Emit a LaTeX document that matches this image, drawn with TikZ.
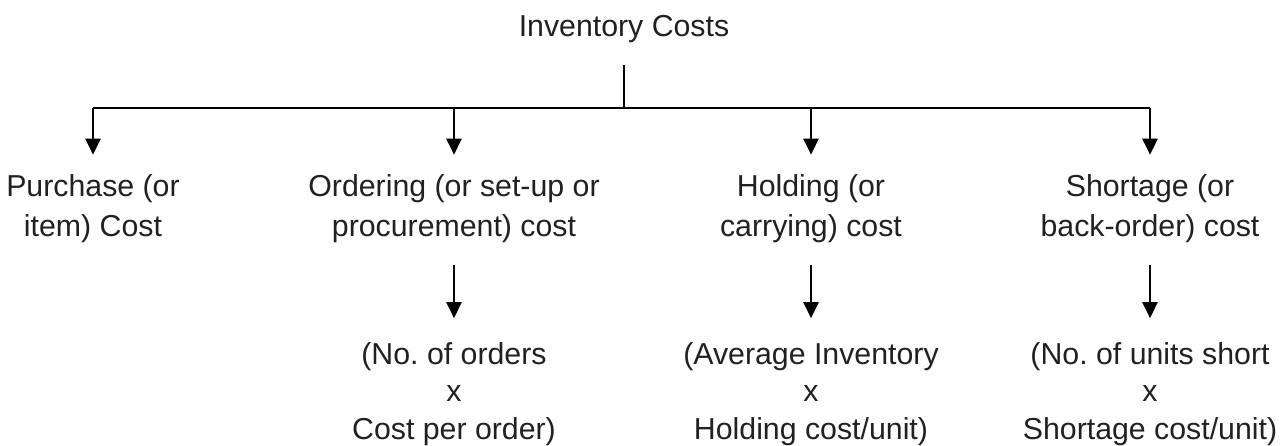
\documentclass[tikz,border=0pt]{standalone}
\usepackage{fontspec}
\setmainfont{Liberation Sans}
\frenchspacing
\usetikzlibrary{arrows.meta}
\begin{document}
\begin{tikzpicture}[x=1pt, y=-1pt,
        cost/.style={align=center, inner sep=0pt, text=black!87, font=\fontsize{30.3}{40}\selectfont},
        calc/.style={cost, font=\fontsize{30.3}{37.5}\selectfont},
        line/.style={line width=2.8pt},
        arr/.style={line width=2.6pt, -{Triangle[length=16pt, width=15pt]}}]
    \useasboundingbox (0,0) rectangle (1284,445);
    \node[cost] (inv) at (624,29) {Inventory Costs};
    \node[cost] (purchase) at (93,209) {Purchase (or\\item) Cost};
    \node[cost] (ordering) at (454,209) {Ordering (or set-up or\\procurement) cost};
    \node[cost] (holding) at (811,209) {Holding (or\\carrying) cost};
    \node[cost] (shortage) at (1150,209) {Shortage (or\\back-order) cost};
    \node[calc] (ordcalc) at (454,394) {(No. of orders\\x\\Cost per order)};
    \node[calc] (holdcalc) at (811,394) {(Average Inventory\\x\\Holding cost/unit)};
    \node[calc] (shortcalc) at (1150,394) {(No. of units short\\x\\Shortage cost/unit)};
    \coordinate (bar) at (624,108);
    \draw[line, shorten <=22pt] (inv.south) -- (bar);
    \draw[line] (purchase |- bar) -- (shortage |- bar);
    \foreach \n in {purchase,ordering,holding,shortage}
        \draw[arr, shorten >=20pt] (\n |- bar) -- (\n.north);
    \foreach \a/\b in {ordering/ordcalc,holding/holdcalc,shortage/shortcalc}
        \draw[arr, shorten <=22pt, shorten >=24pt] (\a.south) -- (\b.north);
\end{tikzpicture}
\end{document}
